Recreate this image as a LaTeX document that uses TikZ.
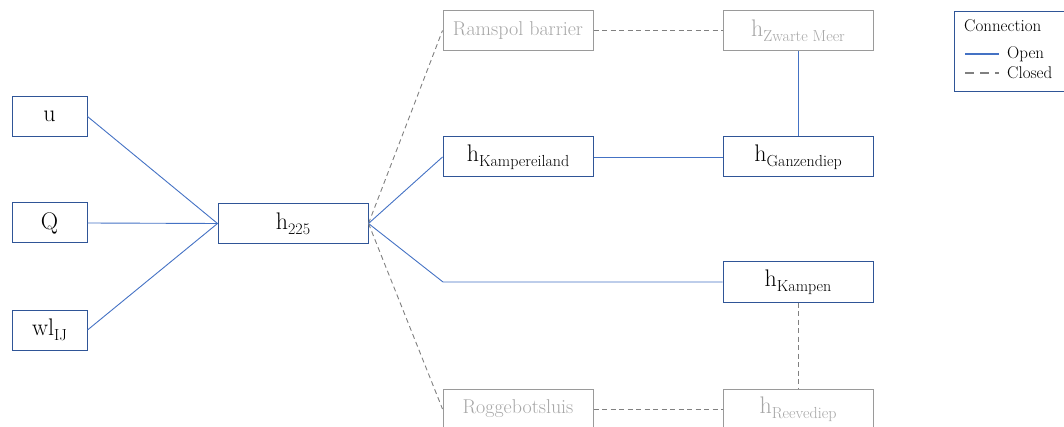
\documentclass[tikz,border=0pt]{standalone}
\usepackage{xcolor}
\definecolor{bluebox}{HTML}{2F5597}
\definecolor{blueline}{HTML}{4472C4}
\definecolor{graybox}{HTML}{9A9A9A}
\definecolor{graytext}{HTML}{A6A6A6}
\definecolor{grayline}{HTML}{808080}
\newcommand{\mainsz}{\fontsize{24}{24}\selectfont}
\newcommand{\subsz}{\fontsize{16}{16}\selectfont}
\newcommand{\hsub}[2]{{\mainsz #1}{\subsz\raisebox{-5pt}{#2}}}
\tikzset{
  openbox/.style={draw=bluebox, line width=1pt, minimum width=150pt, minimum height=40pt, inner sep=0pt, text=black},
  smallbox/.style={draw=bluebox, line width=1pt, minimum width=75pt, minimum height=40pt, inner sep=0pt, text=black},
  closedbox/.style={draw=graybox, line width=1pt, minimum width=150pt, minimum height=40pt, inner sep=0pt, text=graytext},
  openline/.style={draw=blueline, line width=0.9pt},
  closedline/.style={draw=grayline, line width=0.9pt, dash pattern=on 5pt off 3.5pt},
  legtext/.style={anchor=west, inner sep=0pt, font=\fontsize{17}{17}\selectfont},
}
\begin{document}
\begin{tikzpicture}[x=1pt,y=-1pt]
\useasboundingbox (0,0) rectangle (1064,427);
% left inputs
\node[smallbox] (u) at (49.5,116.5) {\mainsz u};
\node[smallbox] (Q) at (49.5,223) {\mainsz Q};
\node[smallbox] (wl) at (49.5,330) {\hsub{wl}{IJ}};
\node[openbox] (h225) at (293,223.5) {\hsub{h}{225}};
% right nodes
\node[closedbox] (ram) at (518,30.5) {\fontsize{20}{20}\selectfont Ramspol barrier};
\node[closedbox] (zw) at (798,30.5) {\hsub{h}{Zwarte Meer}};
\node[openbox] (ke) at (518,157) {\hsub{h}{Kampereiland}};
\node[openbox] (gd) at (798,157) {\hsub{h}{Ganzendiep}};
\node[openbox] (ka) at (798,282) {\hsub{h}{Kampen}};
\node[closedbox] (rog) at (518,409) {\fontsize{20}{20}\selectfont Roggebotsluis};
\node[closedbox] (rv) at (798,409) {\hsub{h}{Reevediep}};
\coordinate (kj) at (443,282);
% connectors
\draw[openline] (u.east) -- (h225.west);
\draw[openline] (Q.east) -- (h225.west);
\draw[openline] (wl.east) -- (h225.west);
\draw[closedline] (h225.east) -- (ram.west);
\draw[openline] (h225.east) -- (ke.west);
\draw[openline] (h225.east) -- (kj) -- (ka.west);
\draw[closedline] (h225.east) -- (rog.west);
\draw[closedline] (ram.east) -- (zw.west);
\draw[openline] (zw.south) -- (gd.north);
\draw[openline] (ke.east) -- (gd.west);
\draw[closedline] (ka.south) -- (rv.north);
\draw[closedline] (rog.east) -- (rv.west);
% legend
\node[draw=bluebox, line width=1pt, minimum width=140pt, minimum height=80pt, anchor=north west, inner sep=0pt] (leg) at (954,11) {};
\node[legtext] (legt) at (964,26) {Connection};
\coordinate (lo1) at (965,54);
\coordinate (lo2) at (999,54);
\coordinate (lc1) at (965,73);
\coordinate (lc2) at (999,73);
\draw[draw=blueline, line width=2pt] (lo1) -- (lo2);
\draw[draw=grayline, line width=2pt, dash pattern=on 9pt off 6pt] (lc1) -- (lc2);
\node[legtext] (lopen) at (1007,54) {Open};
\node[legtext] (lclosed) at (1007,73) {Closed};
\end{tikzpicture}
\end{document}
